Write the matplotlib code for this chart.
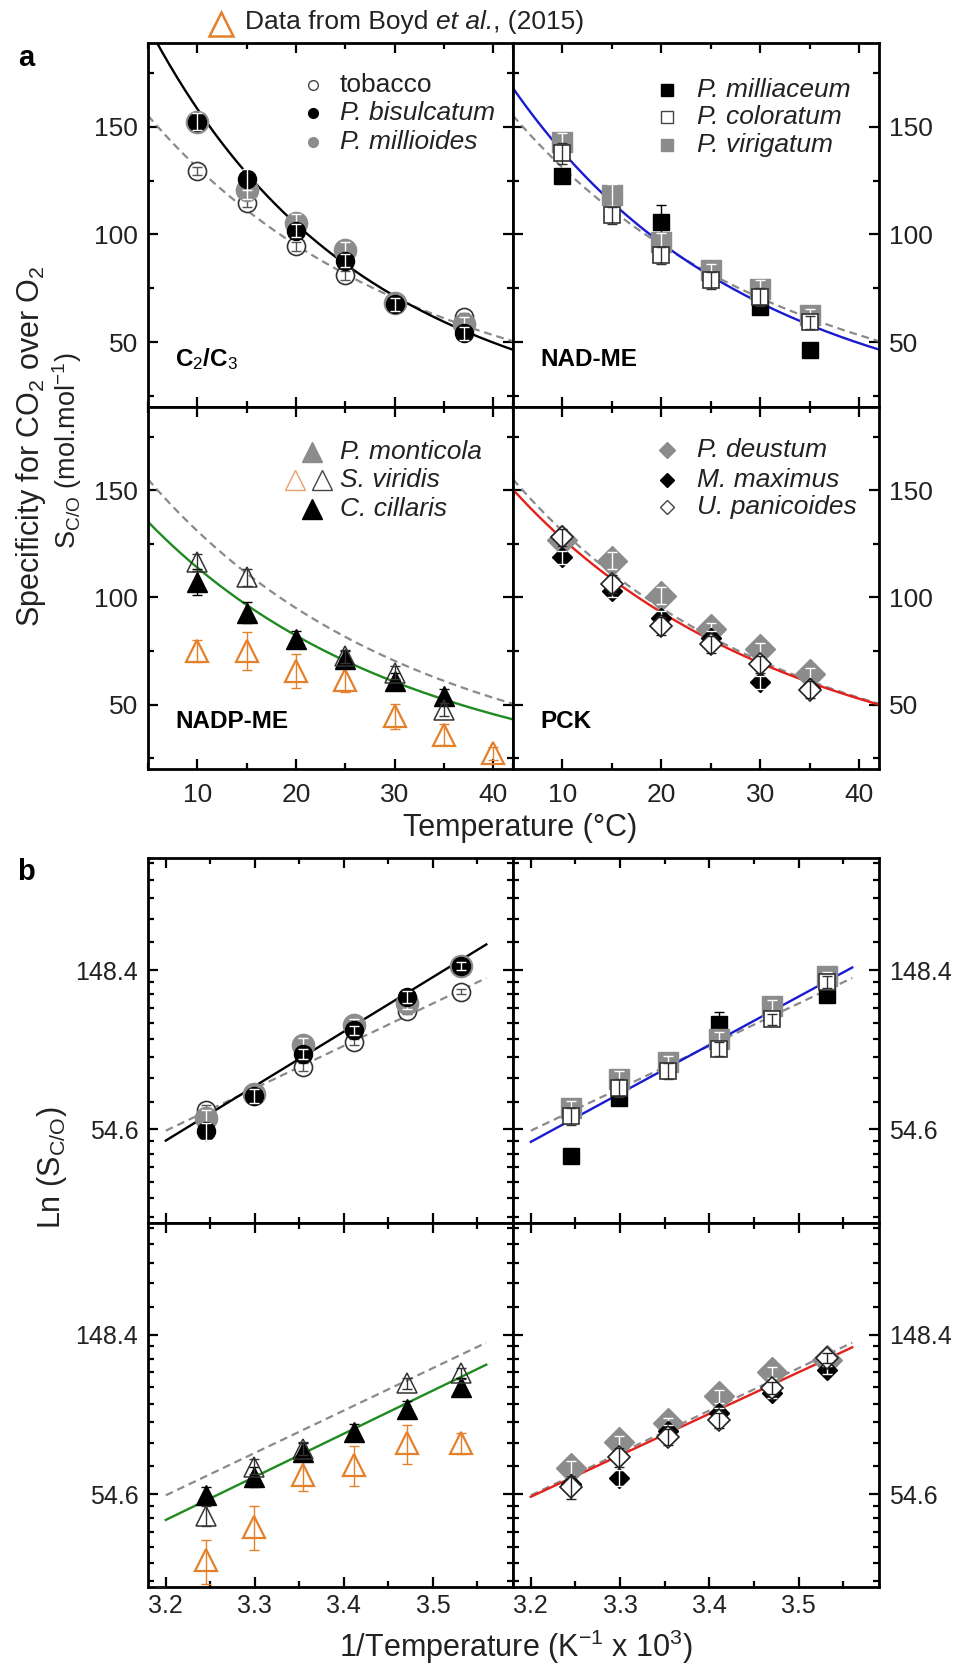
import numpy as np
import matplotlib
matplotlib.use('Agg')
import matplotlib.pyplot as plt
from matplotlib.ticker import MultipleLocator, FixedLocator, NullFormatter, FuncFormatter
from matplotlib.lines import Line2D

plt.rcParams['font.family'] = ['Liberation Sans', 'DejaVu Sans']
plt.rcParams['mathtext.fontset'] = 'custom'
plt.rcParams['mathtext.rm'] = 'Liberation Sans'
plt.rcParams['mathtext.it'] = 'Liberation Sans:italic'
plt.rcParams['mathtext.bf'] = 'Liberation Sans:bold'

nan = np.nan

# ---------------- data ----------------
T = [10, 15, 20, 25, 30, 35]                     # measurement temperatures (deg C)
T_c2c3_panel_a = [10, 15, 20, 25, 30, 37]        # as placed in panel a for C2/C3
T_boyd = [10, 15, 20, 25, 30, 35, 40]

tobacco = [129.5, 114.5, 94.5, 81.0, 68.0, 61.5]
tobacco_err = [2, 2, 2, 2, 2, 2]
p_bisulcatum = [152.3, 125.5, 101.6, 87.7, 67.5, 54.0]
p_bisulcatum_err = [4, 5, 3, 3, 3, 3]
p_millioides = [152.0, 120.6, 105.3, 92.7, 68.0, 58.6]
p_millioides_err = [3, 4, 4, 4, 3, 3]

p_milliaceum = [127.0, nan, 105.8, nan, 66.3, 46.1]
p_milliaceum_err = [2, nan, 8, nan, 2, 2]
p_coloratum = [137.6, 108.9, 90.3, 78.7, 70.9, 59.3]
p_coloratum_err = [5, 4, 4, 4, 4, 3]
p_virigatum = [143.0, 118.2, 96.5, 83.3, 74.8, 62.4]
p_virigatum_err = [4, 5, 4, 3, 4, 3]

s_viridis = [116.4, 109.4, nan, 72.6, 64.9, 47.7]
s_viridis_err = [4, 4, nan, 3, 3, 3]
s_viridis_boyd = [75.0, 75.0, 65.6, 61.7, 44.5, 36.0, 27.3]
s_viridis_boyd_err = [5, 9, 8, 6, 6, 5, 3]
c_cillaris = [107.1, 93.0, 80.5, 71.1, 60.9, 54.2]
c_cillaris_err = [6, 5, 4, 4, 4, 3]

p_deustum = [127.0, 117.2, 100.8, 85.2, 75.8, 64.1]
p_deustum_err = [3, 4, 4, 3, 3, 3]
m_maximus = [118.8, 103.1, 90.6, 81.3, 60.5, 58.0]
m_maximus_err = [3, 3, 3, 3, 3, 3]
u_panicoides = [128.1, 106.3, 86.7, 78.1, 68.8, 57.0]
u_panicoides_err = [4, 4, 4, 4, 4, 4]

# Arrhenius fits: ln(S) = ln_at_3p2 + slope * (1000/T_K - 3.2)
fit_names = ['tobacco', 'C2/C3', 'NAD-ME', 'NADP-ME', 'PCK']
fit_ln_at_3p2 = [3.992, 3.93, 3.922, 3.8375, 3.983]
fit_slope = [2.663, 3.42, 3.04, 2.708, 2.606]

panel_titles = ['C$_2$/C$_3$', 'NAD-ME', 'NADP-ME', 'PCK']

# ---------------- styles ----------------
GREY = '#8c8c8c'
ORANGE = '#e5802a'
DARK = '#222222'
fit_colors = {'tobacco': '#8a8a8a', 'C2/C3': 'black', 'NAD-ME': '#1a1ad0',
              'NADP-ME': '#1f8a1f', 'PCK': '#e3201b'}

def st(m, ms, fc, ec, mew, ecol, top):
    return dict(m=m, ms=ms, fc=fc, ec=ec, mew=mew, ecol=ecol, top=top)

open_circle = st('o', 13, 'white', '#333333', 1.2, '#555555', True)
grey_circle = st('o', 16, GREY, GREY, 1.0, 'white', True)
black_circle = st('o', 13, 'black', 'black', 1.0, 'white', True)
black_square = st('s', 12, 'black', 'black', 1.0, 'black', False)
grey_square = st('s', 15, GREY, GREY, 1.0, 'white', True)
open_square = st('s', 11.5, 'white', '#333333', 1.2, '#333333', True)
orange_tri = st('^', 16, 'none', ORANGE, 1.6, ORANGE, True)
black_tri = st('^', 15, 'black', 'black', 1.0, 'black', False)
open_tri = st('^', 15, 'none', '#333333', 1.1, '#333333', True)
grey_dia = st('D', 15, GREY, GREY, 1.0, 'white', True)
black_dia = st('D', 10.5, 'black', 'black', 1.0, 'white', True)
open_dia = st('D', 11.5, 'white', '#222222', 1.2, '#222222', True)

def inv_T(tc):
    return [1000.0 / (t + 273.15) for t in tc]

# per panel: list of (temps_panel_a, temps_for_b, values, err, style)
panels = [
    dict(fit='C2/C3', series=[
        (T_c2c3_panel_a, T, tobacco, tobacco_err, open_circle),
        (T_c2c3_panel_a, T, p_millioides, p_millioides_err, grey_circle),
        (T_c2c3_panel_a, T, p_bisulcatum, p_bisulcatum_err, black_circle)]),
    dict(fit='NAD-ME', series=[
        (T, T, p_milliaceum, p_milliaceum_err, black_square),
        (T, T, p_virigatum, p_virigatum_err, grey_square),
        (T, T, p_coloratum, p_coloratum_err, open_square)]),
    dict(fit='NADP-ME', series=[
        (T_boyd, T_boyd, s_viridis_boyd, s_viridis_boyd_err, orange_tri),
        (T, T, c_cillaris, c_cillaris_err, black_tri),
        (T, T, s_viridis, s_viridis_err, open_tri)]),
    dict(fit='PCK', series=[
        (T, T, p_deustum, p_deustum_err, grey_dia),
        (T, T, m_maximus, m_maximus_err, black_dia),
        (T, T, u_panicoides, u_panicoides_err, open_dia)]),
]

legends = [
    [([(0.452, dict(m='o', ms=7, fc='white', ec='#444444', mew=1.0))], 'tobacco', 'normal'),
     ([(0.452, dict(m='o', ms=7, fc='black', ec='black', mew=1.0))], 'P. bisulcatum', 'italic'),
     ([(0.452, dict(m='o', ms=7, fc=GREY, ec=GREY, mew=1.0))], 'P. millioides', 'italic')],
    [([(0.42, dict(m='s', ms=8, fc='black', ec='black', mew=1.0))], 'P. milliaceum', 'italic'),
     ([(0.42, dict(m='s', ms=8, fc='white', ec='#444444', mew=1.0))], 'P. coloratum', 'italic'),
     ([(0.42, dict(m='s', ms=9, fc=GREY, ec=GREY, mew=1.0))], 'P. virigatum', 'italic')],
    [([(0.448, dict(m='^', ms=15, fc=GREY, ec=GREY, mew=1.0))], 'P. monticola', 'italic'),
     ([(0.403, dict(m='^', ms=15, fc='none', ec='#e9a06a', mew=1.0)),
       (0.476, dict(m='^', ms=15, fc='none', ec='#444444', mew=1.0))], 'S. viridis', 'italic'),
     ([(0.448, dict(m='^', ms=15, fc='black', ec='black', mew=1.0))], 'C. cillaris', 'italic')],
    [([(0.42, dict(m='D', ms=8, fc=GREY, ec=GREY, mew=1.0))], 'P. deustum', 'italic'),
     ([(0.42, dict(m='D', ms=7, fc='black', ec='black', mew=1.0))], 'M. maximus', 'italic'),
     ([(0.42, dict(m='D', ms=7, fc='white', ec='#444444', mew=1.0))], 'U. panicoides', 'italic')],
]
legend_rows = [[0.884, 0.806, 0.728], [0.870, 0.797, 0.719],
               [0.876, 0.797, 0.719], [0.880, 0.798, 0.724]]
legend_text_x = [0.526, 0.502, 0.526, 0.502]

# ---------------- figure ----------------
W, H = 958, 1670
fig = plt.figure(figsize=(W / 100, H / 100), dpi=100)

def px_axes(x0, x1, y0, y1):
    return fig.add_axes([x0 / W, 1 - y1 / H, (x1 - x0) / W, (y1 - y0) / H])

xcols = [(148, 513), (513, 879)]
rows_a = [(42.7, 406.7), (406.7, 769)]
rows_b = [(858, 1222.7), (1222.7, 1587.3)]

axes_a = []
axes_b = []
for r in range(2):
    for c in range(2):
        axes_a.append(px_axes(xcols[c][0], xcols[c][1], rows_a[r][0], rows_a[r][1]))
for r in range(2):
    for c in range(2):
        axes_b.append(px_axes(xcols[c][0], xcols[c][1], rows_b[r][0], rows_b[r][1]))

def style_axes(ax, col, row, lab_size, xpad):
    for s in ax.spines.values():
        s.set_linewidth(2.0)
    ax.tick_params(which='both', direction='in', top=True, bottom=True,
                   left=True, right=True, width=1.6, colors='black',
                   labelcolor=DARK, labelsize=lab_size)
    ax.tick_params(which='major', length=7)
    ax.tick_params(which='minor', length=4.5)
    ax.tick_params(axis='y', pad=7)
    ax.tick_params(axis='x', pad=xpad)
    if col == 0:
        ax.tick_params(labelleft=True, labelright=False)
    else:
        ax.tick_params(labelleft=False, labelright=True)
    ax.tick_params(labelbottom=(row == 1), labeltop=False)

def fit_curve(name, x):
    i = fit_names.index(name)
    return np.exp(fit_ln_at_3p2[i] + fit_slope[i] * (np.asarray(x) - 3.2))

def draw_series(ax, x, y, err, s, z):
    ax.errorbar(x, y, yerr=err, fmt='none', ecolor=s['ecol'], elinewidth=1.0,
                capsize=3.5, capthick=1.0, zorder=z + (0.5 if s['top'] else -0.5))
    ax.plot(x, y, ls='none', marker=s['m'], ms=s['ms'], mfc=s['fc'], mec=s['ec'],
            mew=s['mew'], zorder=z)

T_line = np.linspace(5, 42, 300)
x_line_a = 1000.0 / (T_line + 273.15)
x_line_b = np.linspace(3.2, 3.56, 100)

# ---- panel a ----
for k, ax in enumerate(axes_a):
    col, row = k % 2, k // 2
    p = panels[k]
    ax.plot(T_line, fit_curve('tobacco', x_line_a), color=fit_colors['tobacco'],
            lw=1.6, dashes=(3.5, 2.2), zorder=2)
    ax.plot(T_line, fit_curve(p['fit'], x_line_a), color=fit_colors[p['fit']],
            lw=1.7, zorder=2.5)
    for i, (ta, tb, vals, err, s) in enumerate(p['series']):
        draw_series(ax, ta, vals, err, s, 4 + 2 * i)
    ax.set_xlim(5, 42)
    ax.set_ylim(20, 189)
    ax.xaxis.set_major_locator(MultipleLocator(10))
    ax.xaxis.set_minor_locator(MultipleLocator(5))
    ax.yaxis.set_major_locator(FixedLocator([50, 100, 150]))
    ax.yaxis.set_minor_locator(FixedLocator([25, 75, 125, 175]))
    style_axes(ax, col, row, 19, 10)
    ax.text(0.074, 0.13, panel_titles[k], transform=ax.transAxes, fontsize=17.5,
            fontweight='bold', ha='left', va='center', zorder=20)
    # legend
    for (marks, label, fstyle), yy in zip(legends[k], legend_rows[k]):
        for xm, ms in marks:
            ax.plot([xm], [yy], transform=ax.transAxes, ls='none', marker=ms['m'],
                    ms=ms['ms'], mfc=ms['fc'], mec=ms['ec'], mew=ms['mew'],
                    clip_on=False, zorder=20)
        ax.text(legend_text_x[k], yy, label, transform=ax.transAxes, fontsize=19,
                style=fstyle, ha='left', va='center', color=DARK, zorder=20)

# ---- panel b ----
def ln_minor(lo, hi):
    vals = []
    for n in range(2, 7):
        a0, a1 = np.e ** n, np.e ** (n + 1)
        step = (a1 - a0) / 9.0
        for j in range(1, 9):
            v = a0 + j * step
            if lo < v < hi:
                vals.append(v)
    return vals

for k, ax in enumerate(axes_b):
    col, row = k % 2, k // 2
    p = panels[k]
    ax.set_yscale('log', base=np.e)
    ax.plot(x_line_b, fit_curve('tobacco', x_line_b), color=fit_colors['tobacco'],
            lw=1.6, dashes=(3.5, 2.2), zorder=2)
    ax.plot(x_line_b, fit_curve(p['fit'], x_line_b), color=fit_colors[p['fit']],
            lw=1.7, zorder=2.5)
    for i, (ta, tb, vals, err, s) in enumerate(p['series']):
        draw_series(ax, inv_T(tb), vals, err, s, 4 + 2 * i)
    ax.set_xlim(3.18, 3.59)
    ax.set_ylim(30.4, 300)
    ax.xaxis.set_major_locator(FixedLocator([3.2, 3.3, 3.4, 3.5]))
    ax.xaxis.set_major_formatter(FuncFormatter(lambda v, pos: f'{v:.1f}'))
    ax.xaxis.set_minor_locator(FixedLocator([3.25, 3.35, 3.45, 3.55]))
    ax.yaxis.set_major_locator(FixedLocator([np.e ** 4, np.e ** 5]))
    ax.yaxis.set_major_formatter(FuncFormatter(lambda v, pos: f'{v:.1f}'))
    ax.yaxis.set_minor_locator(FixedLocator(ln_minor(30.4, 300)))
    ax.yaxis.set_minor_formatter(NullFormatter())
    style_axes(ax, col, row, 18, 5)

# ---- labels ----
fig.text(0.032, 1 - 446 / H, 'Specificity for CO$_2$ over O$_2$', rotation=90,
         fontsize=22, ha='center', va='center', color=DARK)
fig.text(0.070, 1 - 451 / H, 'S$_{\\mathrm{C/O}}$ (mol.mol$^{\\mathrm{-1}}$)', rotation=90,
         fontsize=19.5, ha='center', va='center', color=DARK)
fig.text(520 / W, 1 - 828 / H, 'Temperature (°C)', fontsize=22,
         ha='center', va='center', color=DARK)
fig.text(516 / W, 1 - 1647 / H, '1/Temperature (K$^{\\mathrm{-1}}$ x 10$^{3}$)',
         fontsize=22, ha='center', va='center', color=DARK)
fig.text(52 / W, 1 - 1168 / H, 'Ln (S$_{\\mathrm{C/O}}$)', rotation=90,
         fontsize=22, ha='center', va='center', color=DARK)
fig.text(26 / W, 1 - 58 / H, 'a', fontsize=21, fontweight='bold',
         ha='center', va='center')
fig.text(26 / W, 1 - 872 / H, 'b', fontsize=21, fontweight='bold',
         ha='center', va='center')

# top legend for Boyd et al. data (text pieces chained left to right)
fig.add_artist(Line2D([221 / W], [1 - 24 / H], transform=fig.transFigure,
                      ls='none', marker='^', ms=17, mfc='none', mec=ORANGE, mew=1.8))
renderer = fig.canvas.get_renderer()
x_cursor = 245.0
for piece, pstyle in [('Data from Boyd ', 'normal'), ('et al.', 'italic'), (', (2015)', 'normal')]:
    t = fig.text(x_cursor / W, 1 - 22 / H, piece, fontsize=19, style=pstyle,
                 ha='left', va='center', color=DARK)
    bb = t.get_window_extent(renderer=renderer)
    x_cursor += bb.width

fig.savefig('out.png', dpi=100)
